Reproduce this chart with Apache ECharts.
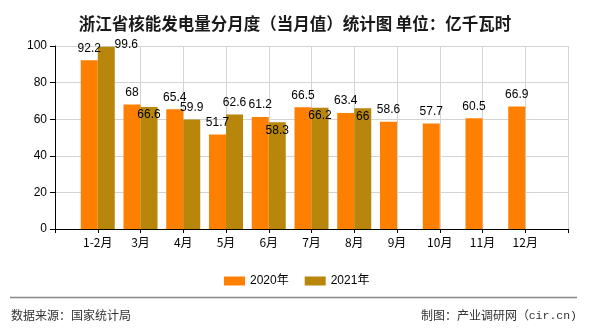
<!DOCTYPE html>
<html>
<head>
<meta charset="utf-8">
<script src="https://cdn.jsdelivr.net/npm/echarts@6/dist/echarts.min.js"></script>
<style>
  html, body { margin: 0; padding: 0; background: #fff; }
  #chart { width: 590px; height: 330px; }
</style>
</head>
<body>
<div id="chart"></div>
<script>
// Monthly nuclear power generation, Zhejiang (100 million kWh)
const months = ['1-2月', '3月', '4月', '5月', '6月', '7月', '8月', '9月', '10月', '11月', '12月'];
const values2020 = [92.2, 68, 65.4, 51.7, 61.2, 66.5, 63.4, 58.6, 57.7, 60.5, 66.9];
const values2021 = [99.6, 66.6, 59.9, 62.6, 58.3, 66.2, 66, null, null, null, null];
const seriesNames = ['2020年', '2021年'];
const yTicks = { min: 0, max: 100, interval: 20 };

const GRID = { left: 55, right: 22, top: 46, bottom: 101 };
const CN_FONT = '"Noto Sans CJK SC", "Liberation Sans", sans-serif';
const NUM_FONT = '"Liberation Sans", "Noto Sans CJK SC", sans-serif';

// one blank slot at each end so the months sit on tick marks
const axisCats = [''].concat(months, ['']);
const pad = arr => [null].concat(arr, [null]);

const data2020 = pad(values2020);
// 2021 labels go inside the bar top when they would crowd the 2020 label
const data2021 = pad(values2021).map((v, i) => {
  if (v == null) return null;
  const other = pad(values2020)[i];
  const crowded = other != null && Math.abs(v - other) < 4;
  return crowded
    ? { value: v, label: { position: 'insideTop', distance: 2 } }
    : v;
});

const labelStyle = {
  show: true,
  position: 'top',
  distance: 6,
  color: '#000',
  fontFamily: NUM_FONT,
  fontSize: 12,
  formatter: p => (p.value == null ? '' : String(p.value))
};

const chart = echarts.init(document.getElementById('chart'), null, { renderer: 'canvas' });
chart.setOption({
  animation: false,
  backgroundColor: '#fff',
  title: {
    text: '浙江省核能发电量分月度（当月值）统计图 单位：亿千瓦时',
    left: 'center',
    top: 10,
    textStyle: { fontFamily: CN_FONT, fontSize: 16.5, fontWeight: 'bold', color: '#1a1a1a' }
  },
  grid: GRID,
  legend: {
    left: 219,
    top: 270,
    icon: 'rect',
    itemWidth: 21,
    itemHeight: 9,
    itemGap: 16,
    itemTextGap: 5,
    textStyle: { fontFamily: NUM_FONT, fontSize: 12, color: '#000' },
    data: seriesNames
  },
  xAxis: {
    type: 'category',
    data: axisCats,
    boundaryGap: false,
    axisLine: { lineStyle: { color: '#000', width: 1 } },
    axisTick: { show: true, length: 4, lineStyle: { color: '#000' }, interval: 0 },
    axisLabel: { color: '#000', fontFamily: CN_FONT, fontSize: 12, margin: 7, interval: 0 },
    splitLine: { show: true, interval: 0, lineStyle: { color: '#d4d4d4', width: 1 } }
  },
  yAxis: {
    type: 'value',
    min: yTicks.min,
    max: yTicks.max,
    interval: yTicks.interval,
    axisLine: { show: true, lineStyle: { color: '#000', width: 1 } },
    axisTick: { show: true, length: 5, lineStyle: { color: '#000' } },
    axisLabel: { color: '#000', fontFamily: NUM_FONT, fontSize: 12, margin: 8 },
    splitLine: { show: true, lineStyle: { color: '#d4d4d4', width: 1 } }
  },
  series: [
    {
      name: seriesNames[0],
      type: 'bar',
      data: data2020,
      barWidth: 17,
      barGap: 0,
      itemStyle: { color: '#FF8000' },
      label: labelStyle
    },
    {
      name: seriesNames[1],
      type: 'bar',
      data: data2021,
      barWidth: 17,
      barGap: 0,
      itemStyle: { color: '#B8860B' },
      label: labelStyle,
      // a label that would rise above the plot is held at the top edge and nudged aside
      labelLayout: params => {
        const r = params.labelRect;
        const limit = GRID.top - r.height / 2 - 1;
        if (r.y < limit) return { dx: 20, dy: limit - r.y };
        return {};
      }
    }
  ],
  graphic: [
    {
      type: 'line',
      shape: { x1: 10, y1: 297.5, x2: 577, y2: 297.5 },
      style: { stroke: '#888', lineWidth: 1.5 }
    },
    {
      type: 'text',
      left: 11,
      top: 309,
      style: { text: '数据来源：国家统计局', fontFamily: CN_FONT, fontSize: 12, fill: '#333' }
    },
    {
      type: 'text',
      left: 421,
      top: 309,
      style: {
        text: '制图：产业调研网（',
        fontFamily: CN_FONT, fontSize: 12, fill: '#333'
      }
    },
    {
      type: 'text',
      right: 13,
      top: 310,
      style: {
        text: 'cir.cn)',
        fontFamily: '"Liberation Mono", "DejaVu Sans Mono", monospace', fontSize: 11.5, fill: '#333'
      }
    }
  ]
});
</script>
</body>
</html>
